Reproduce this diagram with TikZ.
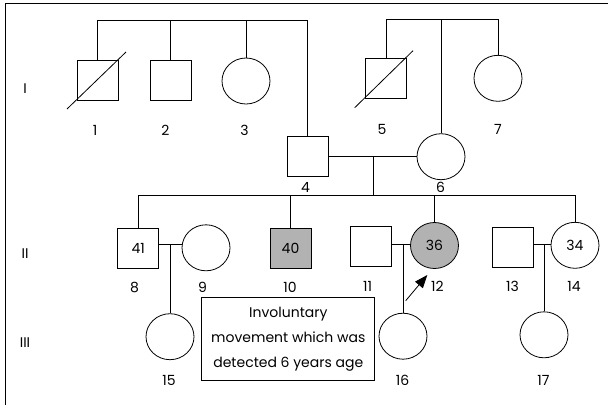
\documentclass[tikz,border=0pt]{standalone}
\usepackage{fontspec}
\setmainfont{Poppins}
\usetikzlibrary{calc,shapes.geometric,arrows.meta}

\begin{document}
\begin{tikzpicture}[x=1pt,y=-1pt,line width=0.8pt,
    male/.style={draw, rectangle, minimum width=41pt, minimum height=40pt, inner sep=0pt, font=\fontsize{14}{16}\selectfont},
    female/.style={draw, ellipse, minimum width=48pt, minimum height=46pt, inner sep=0pt, font=\fontsize{14}{16}\selectfont},
    affected/.style={fill=black!30},
    num/.style={inner sep=0pt, font=\fontsize{14}{16}\selectfont}]
            \useasboundingbox (0,0) rectangle (608,405);
            % frame
            \draw[line width=1.3pt] (608,3.5) -- (5.5,3.5) -- (5.5,405);
            % generation labels
            \node[num] (g1) at (25,88.5) {I};
            \node[num] (g2) at (25,254) {II};
            \node[num] (g3) at (25,342.5) {III};
            % generation I, left family
            \node[male] (p1) at (97.5,80.5) {};
            \node[male] (p2) at (170.5,80.5) {};
            \node[female] (p3) at (246,81) {};
            \node[male] (p4) at (307.7,156.7) {};
            \coordinate (top1) at (97.5,20);
            \coordinate (top4) at (307.7,20);
            \draw (p1.north) -- (top1) -- (top4) -- (p4.north);
            \draw (p2.north) -- (p2.north |- top1);
            \draw (p3.north) -- (p3.north |- top1);
            \draw ($(p1.center)+(-30.5,28.5)$) -- ($(p1.center)+(28.5,-28.5)$);
            % generation I, right family
            \node[male] (p5) at (386,78.7) {};
            \node[female] (p7) at (498,78.3) {};
            \node[female] (p6) at (441,156.7) {};
            \coordinate (top5) at (386,19);
            \coordinate (top7) at (498,19);
            \draw (p5.north) -- (top5) -- (top7) -- (p7.north);
            \draw (p6.north) -- (p6.north |- top5);
            \draw ($(p5.center)+(-31.3,29)$) -- ($(p5.center)+(27,-28)$);
            % numbers, generation I
            \node[num] (n1) at (95,130) {1};
            \node[num] (n2) at (165.5,130) {2};
            \node[num] (n3) at (244.5,130) {3};
            \node[num] (n4) at (305.5,187) {4};
            \node[num] (n5) at (382,129) {5};
            \node[num] (n6) at (440.5,187) {6};
            \node[num] (n7) at (498,129) {7};
            % marriage 4 and 6
            \coordinate (m46) at (373,156.7);
            \coordinate (sib2) at (373,195);
            \draw (p4.east) -- (p6.west);
            \draw (m46) -- (sib2);
            % generation II
            \node[male] (p8) at (138.3,248.7) {41};
            \node[female] (p9) at (206,247.8) {};
            \node[male, affected] (p10) at (290.5,248.3) {40};
            \node[male] (p11) at (371,246.7) {};
            \node[female, affected] (p12) at (434.5,245.5) {36};
            \node[male] (p13) at (512.5,247.3) {};
            \node[female] (p14) at (575,245.3) {34};
            \draw (p8.north) -- (p8.north |- sib2) -- (p14.north |- sib2) -- (p14.north);
            \draw (p10.north) -- (p10.north |- sib2);
            \draw (p12.north) -- (p12.north |- sib2);
            % numbers, generation II
            \node[num] (n8) at (134.5,287) {8};
            \node[num] (n9) at (202.5,287) {9};
            \node[num] (n10) at (290,287) {10};
            \node[num] (n11) at (367.5,286.7) {11};
            \node[num] (n12) at (437.5,286.7) {12};
            \node[num] (n13) at (512.5,286.7) {13};
            \node[num] (n14) at (574,286.7) {14};
            % generation III
            \node[female] (p15) at (170,336.7) {};
            \node[female] (p16) at (403,336.2) {};
            \node[female] (p17) at (544,334.8) {};
            \coordinate (m89) at (170,244);
            \coordinate (m1112) at (403,244);
            \coordinate (m1314) at (544,244);
            \draw (m89 -| p8.east) -- (m89 -| p9.west);
            \draw (m1112 -| p11.east) -- (m1112 -| p12.west);
            \draw (m1314 -| p13.east) -- (m1314 -| p14.west);
            \draw (m89) -- (p15.north);
            \draw (m1112) -- (p16.north);
            \draw (m1314) -- (p17.north);
            % numbers, generation III
            \node[num] (n15) at (169,380) {15};
            \node[num] (n16) at (402.5,380) {16};
            \node[num] (n17) at (543.5,380) {17};
            % note and proband arrow
            \node[draw, align=center, inner sep=0pt, minimum width=173pt, minimum height=83pt,
                font=\fontsize{14}{25}\selectfont] (note) at (288.3,339.2)
                {Involuntary\\movement which was\\detected 6 years age};
            \coordinate (arrtail) at (405.7,300.7);
            \coordinate (arrtip) at (427.3,275);
            \draw[-{Triangle[length=13pt,width=10pt]}] (arrtail) -- (arrtip);
\end{tikzpicture}
\end{document}
